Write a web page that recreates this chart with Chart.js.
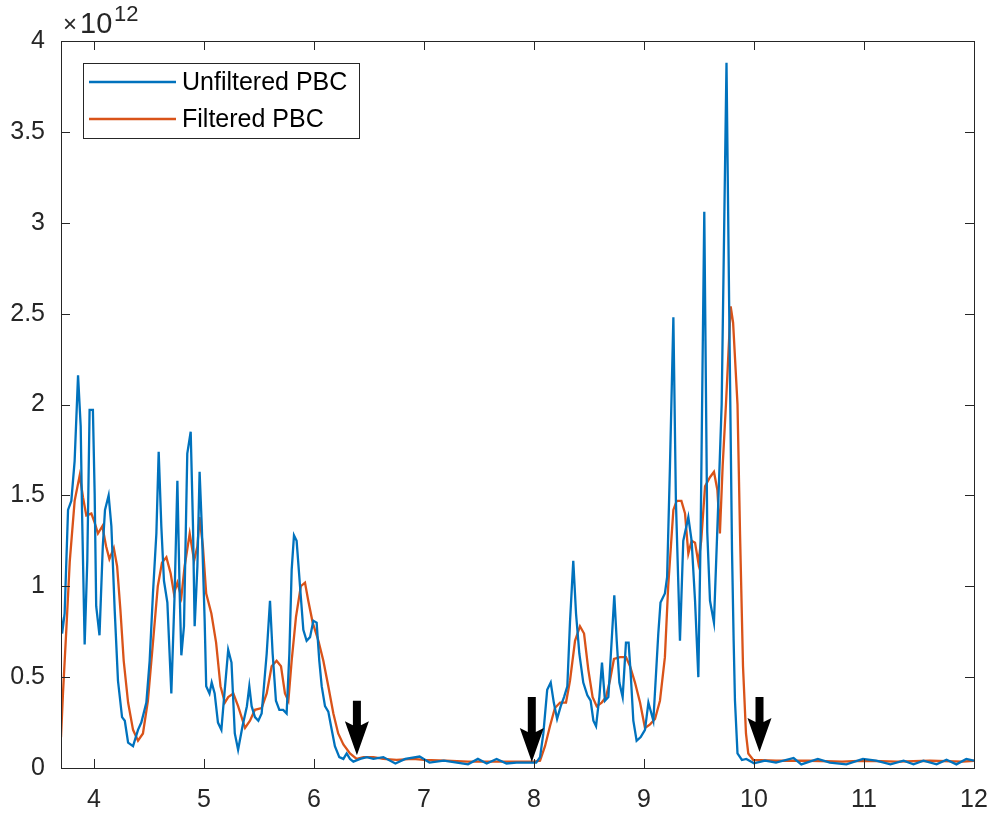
<!DOCTYPE html>
<html>
<head>
<meta charset="utf-8">
<script src="https://cdn.jsdelivr.net/npm/chart.js@4/dist/chart.umd.min.js"></script>
<style>
  html, body { margin: 0; padding: 0; background: #fff; }
  #wrap { width: 993px; height: 817px; }
</style>
</head>
<body>
<div id="wrap"><canvas id="pbcChart" width="993" height="817"></canvas></div>
<script>
// values are in units of 10^12 (the axis carries the exponent label)
const seriesLabels = ["Unfiltered PBC", "Filtered PBC"];

const unfilteredX = [
  3.70, 3.71, 3.733, 3.764, 3.794, 3.824, 3.855, 3.879, 3.891, 3.915, 3.939, 3.96, 3.99,
  4.006, 4.02, 4.05, 4.08, 4.10, 4.133, 4.158, 4.188, 4.218, 4.255, 4.28, 4.31, 4.355,
  4.40, 4.43, 4.476, 4.506, 4.536, 4.567, 4.588, 4.612, 4.636, 4.667, 4.703, 4.733, 4.758,
  4.779, 4.794, 4.818, 4.848, 4.879, 4.90, 4.915, 4.94, 4.96, 4.98, 5.006, 5.02, 5.05,
  5.07, 5.097, 5.127, 5.158, 5.176, 5.22, 5.25, 5.28, 5.31, 5.35, 5.39, 5.412, 5.433,
  5.463, 5.494, 5.524, 5.57, 5.60, 5.624, 5.654, 5.685, 5.72, 5.751, 5.776, 5.797, 5.818,
  5.842, 5.873, 5.903, 5.933, 5.964, 5.994, 6.024, 6.048, 6.07, 6.10, 6.13, 6.155, 6.19,
  6.23, 6.267, 6.297, 6.327, 6.358, 6.42, 6.48, 6.54, 6.63, 6.74, 6.83, 6.96, 7.05, 7.18,
  7.30, 7.40, 7.49, 7.57, 7.66, 7.75, 7.84, 7.93, 8.02, 8.055, 8.085, 8.12, 8.152, 8.18,
  8.21, 8.243, 8.273, 8.303, 8.327, 8.357, 8.382, 8.412, 8.448, 8.485, 8.515, 8.54, 8.564,
  8.594, 8.618, 8.645, 8.676, 8.706, 8.73, 8.752, 8.776, 8.806, 8.836, 8.86, 8.879, 8.903,
  8.933, 8.97, 9.009, 9.04, 9.085, 9.13, 9.15, 9.19, 9.21, 9.236, 9.267, 9.29, 9.327,
  9.357, 9.403, 9.433, 9.464, 9.494, 9.515, 9.548, 9.575, 9.60, 9.636, 9.676, 9.706, 9.75,
  9.775, 9.80, 9.815, 9.827, 9.85, 9.89, 9.93, 10.0, 10.1, 10.2, 10.36, 10.43, 10.58,
  10.69, 10.84, 10.99, 11.11, 11.24, 11.36, 11.45, 11.54, 11.66, 11.75, 11.84, 11.93, 12.0
];
const unfilteredY = [
  0.83, 0.74, 0.85, 1.42, 1.47, 1.69, 2.16, 1.88, 1.42, 0.68, 1.14, 1.97, 1.97,
  1.51, 0.89, 0.73, 1.22, 1.42, 1.50, 1.33, 0.87, 0.48, 0.28, 0.26, 0.14, 0.12,
  0.21, 0.25, 0.36, 0.59, 0.96, 1.29, 1.74, 1.33, 1.03, 0.91, 0.41, 0.96, 1.58,
  0.96, 0.62, 0.78, 1.73, 1.85, 1.33, 0.78, 1.11, 1.63, 1.33, 0.81, 0.45, 0.41,
  0.47, 0.41, 0.25, 0.21, 0.34, 0.65, 0.58, 0.19, 0.10, 0.23, 0.34, 0.45, 0.34,
  0.28, 0.26, 0.30, 0.63, 0.92, 0.63, 0.37, 0.32, 0.32, 0.30, 0.63, 1.09, 1.28,
  1.25, 1.00, 0.76, 0.70, 0.72, 0.81, 0.80, 0.59, 0.45, 0.34, 0.31, 0.23, 0.12,
  0.06, 0.05, 0.08, 0.05, 0.035, 0.05, 0.06, 0.05, 0.06, 0.025, 0.05, 0.063, 0.03, 0.04,
  0.03, 0.02, 0.05, 0.025, 0.05, 0.025, 0.03, 0.03, 0.03, 0.06, 0.19, 0.43, 0.47, 0.36,
  0.27, 0.34, 0.39, 0.45, 0.80, 1.14, 0.85, 0.63, 0.47, 0.40, 0.37, 0.26, 0.23,
  0.39, 0.58, 0.37, 0.39, 0.70, 0.95, 0.70, 0.47, 0.39, 0.69, 0.69, 0.52, 0.26,
  0.15, 0.17, 0.21, 0.36, 0.26, 0.74, 0.91, 0.96, 1.05, 1.66, 2.48, 1.47, 0.70,
  1.25, 1.38, 1.25, 0.92, 0.50, 1.29, 3.06, 1.30, 0.92, 0.80, 1.47, 2.00, 3.88,
  2.50, 1.20, 0.70, 0.37, 0.08, 0.044, 0.05, 0.026, 0.04, 0.03, 0.055, 0.02, 0.05,
  0.03, 0.02, 0.05, 0.04, 0.02, 0.04, 0.02, 0.04, 0.02, 0.045, 0.02, 0.05, 0.04
];

const filteredX = [
  3.70, 3.718, 3.75, 3.78, 3.824, 3.87, 3.90, 3.93, 3.976, 4.006, 4.036, 4.076, 4.11,
  4.14, 4.18, 4.21, 4.24, 4.27, 4.31, 4.355, 4.40, 4.445, 4.49, 4.536, 4.58, 4.618,
  4.658, 4.697, 4.727, 4.758, 4.794, 4.824, 4.87, 4.91, 4.94, 4.96, 4.99, 5.02, 5.067,
  5.11, 5.15, 5.19, 5.22, 5.267, 5.31, 5.373, 5.418, 5.463, 5.524, 5.57, 5.615, 5.66,
  5.70, 5.736, 5.767, 5.797, 5.836, 5.88, 5.918, 5.948, 5.988, 6.04, 6.085, 6.13, 6.176,
  6.22, 6.267, 6.327, 6.388, 6.45, 6.54, 6.63, 6.75, 6.90, 7.00, 7.20, 7.40, 7.60, 7.80,
  8.00, 8.055, 8.10, 8.145, 8.19, 8.237, 8.291, 8.327, 8.373, 8.418, 8.455, 8.494, 8.533,
  8.57, 8.615, 8.654, 8.69, 8.727, 8.782, 8.836, 8.873, 8.918, 8.964, 9.009, 9.055, 9.10,
  9.145, 9.19, 9.22, 9.267, 9.297, 9.34, 9.373, 9.403, 9.433, 9.464, 9.494, 9.52, 9.555,
  9.60, 9.636, 9.667, 9.69, 9.715, 9.745, 9.788, 9.81, 9.85, 9.873, 9.90, 9.927, 9.948,
  9.994, 10.2, 10.5, 10.8, 11.0, 11.3, 11.6, 11.9, 12.0
];
const filteredY = [
  0.17, 0.41, 0.78, 1.14, 1.47, 1.61, 1.49, 1.39, 1.40, 1.35, 1.29, 1.33, 1.22,
  1.15, 1.21, 1.11, 0.87, 0.59, 0.36, 0.21, 0.15, 0.19, 0.37, 0.69, 1.00, 1.13,
  1.16, 1.07, 0.96, 1.02, 0.94, 1.11, 1.29, 1.14, 1.22, 1.38, 1.22, 0.96, 0.85,
  0.69, 0.45, 0.36, 0.39, 0.41, 0.34, 0.22, 0.26, 0.32, 0.33, 0.41, 0.56, 0.59,
  0.56, 0.41, 0.37, 0.59, 0.83, 1.00, 1.02, 0.92, 0.80, 0.70, 0.59, 0.45, 0.30,
  0.19, 0.13, 0.08, 0.05, 0.06, 0.06, 0.05, 0.045, 0.05, 0.045, 0.04, 0.035, 0.035, 0.035,
  0.035, 0.04, 0.12, 0.23, 0.33, 0.36, 0.36, 0.48, 0.70, 0.78, 0.74, 0.54, 0.39,
  0.34, 0.36, 0.39, 0.48, 0.60, 0.61, 0.61, 0.56, 0.47, 0.36, 0.22, 0.24, 0.27,
  0.37, 0.61, 1.00, 1.42, 1.47, 1.47, 1.40, 1.18, 1.25, 1.24, 1.13, 1.25, 1.55,
  1.60, 1.63, 1.53, 1.29, 1.66, 2.00, 2.54, 2.45, 2.00, 1.29, 0.56, 0.19, 0.08,
  0.044, 0.04, 0.04, 0.035, 0.04, 0.035, 0.04, 0.035, 0.04
];

const xTicks = [4, 5, 6, 7, 8, 9, 10, 11, 12];
const yTicks = [0, 0.5, 1, 1.5, 2, 2.5, 3, 3.5, 4];
const yExponent = "12";

// black arrows marking the transitions
const arrowX = [6.39, 7.98, 10.05];
const arrowTail = [0.37, 0.39, 0.39];
const arrowTip = [0.07, 0.033, 0.088];

const axisColor = "#262626";
const fontFamily = "'Liberation Sans', Arial, Helvetica, sans-serif";

function toPoints(xs, ys) {
  return xs.map((x, i) => ({ x: x, y: ys[i] }));
}

// box around the axes with inward ticks on all four sides, like MATLAB
const boxAxes = {
  id: "boxAxes",
  afterDatasetsDraw(chart) {
    const { ctx, chartArea: a, scales } = chart;
    const tick = 9;
    ctx.save();
    ctx.strokeStyle = axisColor;
    ctx.lineWidth = 1;
    ctx.beginPath();
    xTicks.forEach(v => {
      const px = Math.round(scales.x.getPixelForValue(v)) + 0.5;
      ctx.moveTo(px, a.bottom); ctx.lineTo(px, a.bottom - tick);
      ctx.moveTo(px, a.top); ctx.lineTo(px, a.top + tick);
    });
    yTicks.forEach(v => {
      const py = Math.round(scales.y.getPixelForValue(v)) + 0.5;
      ctx.moveTo(a.left, py); ctx.lineTo(a.left + tick, py);
      ctx.moveTo(a.right, py); ctx.lineTo(a.right - tick, py);
    });
    ctx.stroke();
    ctx.strokeRect(Math.round(a.left) + 0.5, Math.round(a.top) + 0.5,
      Math.round(a.right - a.left), Math.round(a.bottom - a.top));

    // exponent label above the y axis
    ctx.fillStyle = axisColor;
    ctx.textBaseline = "alphabetic";
    ctx.textAlign = "left";
    ctx.font = "24px " + fontFamily;
    ctx.fillText("\u00d7", a.left + 2, a.top - 9);
    ctx.font = "29px " + fontFamily;
    ctx.fillText("10", a.left + 19, a.top - 8);
    ctx.font = "22px " + fontFamily;
    ctx.fillText(yExponent, a.left + 53, a.top - 20);
    ctx.restore();
  }
};

const arrows = {
  id: "arrows",
  afterDatasetsDraw(chart) {
    const { ctx, scales } = chart;
    ctx.save();
    ctx.fillStyle = "#000";
    arrowX.forEach((xv, i) => {
      const x = scales.x.getPixelForValue(xv);
      const y0 = scales.y.getPixelForValue(arrowTail[i]);
      const y1 = scales.y.getPixelForValue(arrowTip[i]);
      const headLen = 30, headHalf = 12, shaftHalf = 4;
      const hy = y1 - headLen;
      ctx.beginPath();
      ctx.moveTo(x - shaftHalf, y0);
      ctx.lineTo(x + shaftHalf, y0);
      ctx.lineTo(x + shaftHalf, hy);
      ctx.lineTo(x + headHalf, hy - 4);
      ctx.lineTo(x, y1);
      ctx.lineTo(x - headHalf, hy - 4);
      ctx.lineTo(x - shaftHalf, hy);
      ctx.closePath();
      ctx.fill();
    });
    ctx.restore();
  }
};

const boxLegend = {
  id: "boxLegend",
  afterDraw(chart) {
    const { ctx, chartArea: a } = chart;
    const left = Math.round(a.left) + 22, top = Math.round(a.top) + 22;
    const width = 276, height = 75;
    ctx.save();
    ctx.fillStyle = "#fff";
    ctx.fillRect(left, top, width, height);
    ctx.strokeStyle = axisColor;
    ctx.lineWidth = 1;
    ctx.strokeRect(left + 0.5, top + 0.5, width, height);
    ctx.font = "25px " + fontFamily;
    ctx.textBaseline = "middle";
    ctx.textAlign = "left";
    chart.data.datasets.forEach((ds, i) => {
      const y = top + 19 + i * 37;
      ctx.strokeStyle = ds.borderColor;
      ctx.lineWidth = 2.3;
      ctx.beginPath();
      ctx.moveTo(left + 6, y);
      ctx.lineTo(left + 93, y);
      ctx.stroke();
      ctx.fillStyle = "#000";
      ctx.fillText(ds.label, left + 99, y + 1);
    });
    ctx.restore();
  }
};

const ctx = document.getElementById("pbcChart").getContext("2d");
const pbcChart = new Chart(ctx, {
  type: "line",
  data: {
    datasets: [
      {
        label: seriesLabels[0],
        data: toPoints(unfilteredX, unfilteredY),
        borderColor: "#0072BD",
        borderWidth: 2.3,
        pointRadius: 0,
        tension: 0,
        fill: false
      },
      {
        label: seriesLabels[1],
        data: toPoints(filteredX, filteredY),
        borderColor: "#D95319",
        borderWidth: 2.3,
        pointRadius: 0,
        tension: 0,
        fill: false
      }
    ]
  },
  options: {
    responsive: false,
    animation: false,
    devicePixelRatio: 1,
    layout: { padding: { left: 0, right: 19, top: 41, bottom: 0 } },
    plugins: {
      legend: { display: false },
      tooltip: { enabled: false }
    },
    scales: {
      x: {
        type: "linear",
        min: 3.7,
        max: 12,
        grid: { display: false, drawTicks: false },
        border: { display: false },
        afterBuildTicks: s => { s.ticks = xTicks.map(v => ({ value: v })); },
        afterFit: s => { s.height = 49; s.paddingLeft = 0; s.paddingRight = 0; },
        ticks: {
          autoSkip: false,
          maxRotation: 0,
          padding: 17,
          color: axisColor,
          font: { family: fontFamily, size: 25 },
          callback: v => String(v)
        }
      },
      y: {
        type: "linear",
        min: 0,
        max: 4,
        grid: { display: false, drawTicks: false },
        border: { display: false },
        afterBuildTicks: s => { s.ticks = yTicks.map(v => ({ value: v })); },
        afterFit: s => { s.width = 61; s.paddingTop = 0; s.paddingBottom = 0; },
        ticks: {
          autoSkip: false,
          padding: 16,
          color: axisColor,
          font: { family: fontFamily, size: 25 },
          callback: v => String(v)
        }
      }
    }
  },
  plugins: [boxAxes, arrows, boxLegend]
});
</script>
</body>
</html>
